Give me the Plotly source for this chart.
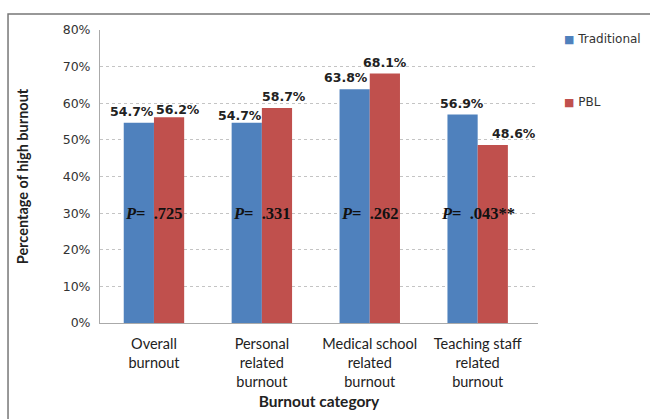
import plotly.graph_objects as go

categories = ["Overall<br>burnout", "Personal<br>related<br>burnout",
              "Medical school<br>related<br>burnout", "Teaching staff<br>related<br>burnout"]
series_names = ["Traditional", "PBL"]
traditional = [54.7, 54.7, 63.8, 56.9]
pbl = [56.2, 58.7, 68.1, 48.6]
p_values = [".725", ".331", ".262", ".043**"]
y_ticks = [0, 10, 20, 30, 40, 50, 60, 70, 80]
p_level = 30

colors = ["#4F81BD", "#C0504D"]

# layout geometry (styles)
W, H = 650, 419
ML, MR, MT, MB = 100, 112, 30, 96
plot_w = W - ML - MR
bargap = 0.44
bar_px = plot_w / len(categories) * (1 - bargap) / 2
nudge_trad = [-7, -7, -8, 0]
nudge_pbl = [9, 7, 0, 21]
yshift_trad = [0, -4, 0, 0]
yshift_pbl = [-4, 0, 0, 0]

fig = go.Figure()
for name, vals, col in zip(series_names, [traditional, pbl], colors):
    fig.add_trace(go.Bar(x=categories, y=vals, name=name, marker_color=col,
                         marker_line_width=0, showlegend=False))

annotations = []
for i, (vals, nudges, ys) in enumerate([(traditional, nudge_trad, yshift_trad),
                                        (pbl, nudge_pbl, yshift_pbl)]):
    sign = -1 if i == 0 else 1
    for c, v, n, s in zip(categories, vals, nudges, ys):
        annotations.append(dict(x=c, y=v, xref="x", yref="y", text=f"{v:.1f}%",
                                showarrow=False, yanchor="bottom", yshift=2 + s,
                                xshift=sign * bar_px / 2 + n,
                                font=dict(family="DejaVu Sans", size=12.5, color="#222",
                                          weight="bold")))
for c, p in zip(categories, p_values):
    annotations.append(dict(x=c, y=p_level, xref="x", yref="y",
                            text=f"<i>P</i>=  {p}", showarrow=False,
                            font=dict(family="Liberation Serif", size=16.5, color="#111",
                                      weight="bold")))
# legend
for name, col, ly in zip(series_names, colors, [0.969, 0.754]):
    annotations.append(dict(x=1.055, y=ly, xref="paper", yref="paper", xanchor="left",
                            yanchor="middle", showarrow=False,
                            text=f"<span style='color:{col};font-size:11px'>■</span> {name}",
                            font=dict(family="DejaVu Sans", size=12, color="#333")))

fig.update_layout(
    width=W, height=H, margin=dict(l=ML, r=MR, t=MT, b=MB),
    paper_bgcolor="white", plot_bgcolor="white",
    barmode="group", bargap=bargap, bargroupgap=0,
    annotations=annotations,
    shapes=[dict(type="rect", xref="paper", yref="paper", x0=-0.21, x1=1.35,
                 y0=-0.6, y1=1.055, line=dict(color="#777", width=1.5))],
    xaxis=dict(showline=True, linecolor="#aaa", linewidth=1, ticks="",
               ticklabelstandoff=8, automargin=False,
               tickfont=dict(family="Lato", size=14.5, color="#222"),
               title=dict(text="<b>Burnout category</b>", standoff=7,
                          font=dict(family="Lato", size=15.5, color="#222"))),
    yaxis=dict(range=[0, 80], tickvals=y_ticks, ticktext=[f"{t}%" for t in y_ticks],
               showgrid=True, gridcolor="#c4c4c4", griddash="dot", gridwidth=1,
               showline=True, linecolor="#aaa", linewidth=1, zeroline=False,
               ticks="", ticklabelstandoff=6, automargin=False,
               tickfont=dict(family="DejaVu Sans", size=12.5, color="#333"),
               title=dict(text="<b>Percentage of high burnout</b>", standoff=30,
                          font=dict(family="Lato", size=14.5, color="#222"))),
    font=dict(family="Lato"),
)
fig.write_html("out.html")
